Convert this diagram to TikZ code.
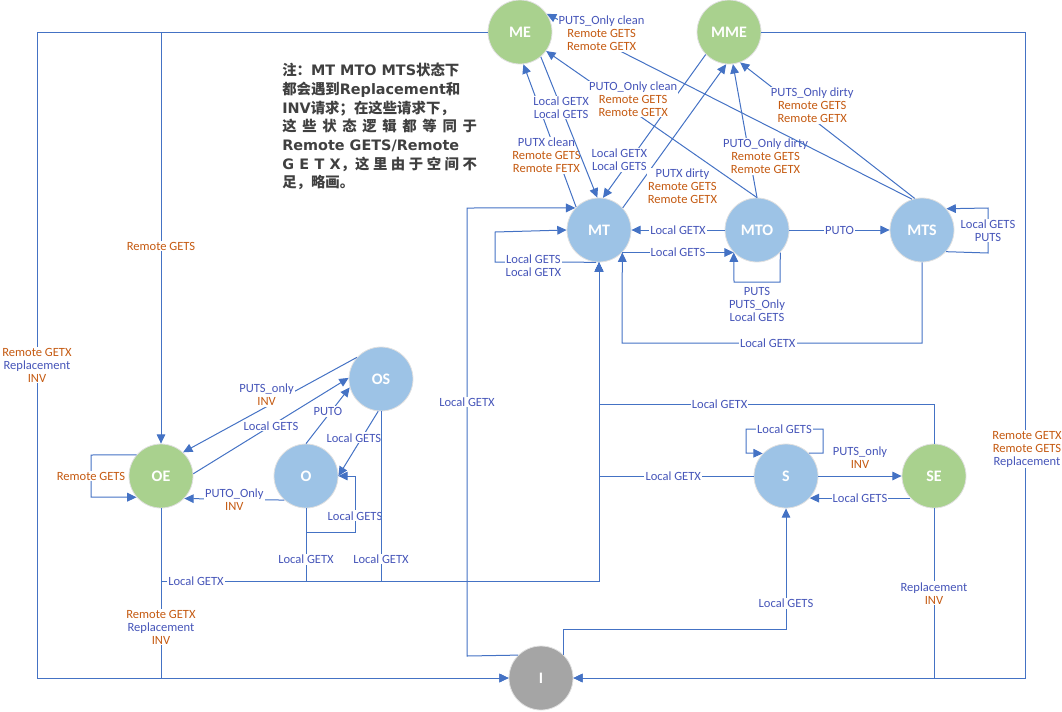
\documentclass[tikz,border=0pt]{standalone}
\usepackage{fontspec}
\usetikzlibrary{arrows.meta}

\newfontfamily\lbfont{Carlito}
\newfontfamily\cjkfont{Noto Sans CJK SC}
\newfontfamily\notelat{DejaVu Sans}

\definecolor{gfill}{HTML}{A9D18E}
\definecolor{bfill}{HTML}{9DC3E6}
\definecolor{ifill}{HTML}{A5A5A5}
\definecolor{lnblue}{HTML}{4472C4}
\definecolor{txtblue}{RGB}{70,85,185}
\definecolor{txtorange}{HTML}{C55A11}
\definecolor{notegray}{HTML}{404040}

\newcommand{\og}[1]{\textcolor{txtorange}{#1}}
\newcommand{\lt}[1]{{\notelat #1}}

\begin{document}
\begin{tikzpicture}[x=0.75pt,y=-0.75pt,
  st/.style={circle, minimum size=48pt, inner sep=0pt, draw=black!12, line width=0.6pt,
    text=white, font=\lbfont\bfseries\fontsize{12}{14}\selectfont},
  ar/.style={draw=lnblue, line width=0.75pt, -{Triangle[length=7pt,width=6.5pt]}},
  lb/.style={fill=white, inner sep=0.8pt, text=txtblue, align=center,
    font=\lbfont\fontsize{9.4}{9.75}\selectfont}]
\useasboundingbox (0,0) rectangle (1062,711);

% states
\node[st,fill=gfill] (ME)  at (520,32)  {ME};
\node[st,fill=gfill] (MME) at (729,32)  {MME};
\node[st,fill=bfill] (MT)  at (599,230) {MT};
\node[st,fill=bfill] (MTO) at (757,230) {MTO};
\node[st,fill=bfill] (MTS) at (922,230) {MTS};
\node[st,fill=bfill] (OS)  at (381,379) {OS};
\node[st,fill=gfill] (OE)  at (161,476) {OE};
\node[st,fill=bfill] (O)   at (306,476) {O};
\node[st,fill=bfill] (S)   at (786,476) {S};
\node[st,fill=gfill] (SE)  at (934,476) {SE};
\node[st,fill=ifill] (I)   at (541,678) {I};

% note
\node[anchor=north west, inner sep=0pt, align=left, text=notegray,
  font=\cjkfont\bfseries\fontsize{10.8}{14}\selectfont] (note) at (282,63)
  {注：\lt{MT MTO MTS}状态下\\
   都会遇到\lt{Replacement}和\\
   \lt{INV}请求；在这些请求下，\\
   \makebox[146pt][s]{这 些 状 态 逻 辑 都 等 同 于}\\
   \lt{Remote GETS/Remote}\\
   \makebox[146pt][s]{\lt{G E T X}，这 里 由 于 空 间 不}\\
   足，略画。};

% outer frame to I
\draw[ar] (ME.west) -| (37,678) -- (I.west);
\node[lb] (lbL) at (37,365) {\og{Remote GETX}\\Replacement\\\og{INV}};
\draw[ar] (ME.west) -| (OE.north) node[lb,pos=.76]{\og{Remote GETS}};
\draw[ar] (OE.south) |- (I.west) node[lb,pos=.35]{\og{Remote GETX}\\Replacement\\\og{INV}};
\draw[ar] (MME.east) -| (1025,678) -- (I.east);
\node[lb] (lbR) at (1027,449) {\og{Remote GETX}\\\og{Remote GETS}\\Replacement};
\draw[ar] (SE.south) |- (I.east) node[lb,pos=.25]{Replacement\\\og{INV}};

% OE / O / OS
\draw[ar] (OE.139) -- (91,455) -- (91,497) node[lb,pos=.5]{\og{Remote GETS}} -- (OE.221);
\draw[ar] (OS.138) -- (OE.47) node[lb,pos=.52,yshift=9pt]{PUTS\_only\\\og{INV}};
\draw[ar] (OE.4) -- (OS.178) node[lb,pos=.5]{Local GETS};
\draw[ar] (O.north) -- (OS.195) node[lb,pos=.5,yshift=3pt]{PUTO};
\draw[ar] (OS.265) -- (O.east) node[lb,pos=.41,xshift=-6pt]{Local GETS};
\draw[ar] (O.south) -- (306,532) -- (355,532) -- (355,476) node[lb,pos=.29]{Local GETS} -- (O.east);
\draw[ar] (O.228) -- (OE.-44) node[lb,pos=.5]{PUTO\_Only\\\og{INV}};

% Local GETX bus to MT
\draw[ar] (OE.south) |- (599,581) node[lb,pos=.54]{Local GETX} -- (MT.south);
\draw[ar] (O.south) |- (599,581) node[lb,pos=.35]{Local GETX} -- (MT.south);
\draw[ar] (OS.south) |- (599,581) node[lb,pos=.435]{Local GETX} -- (MT.south);
\draw[ar] (S.west) -| (MT.south) node[lb,pos=.26]{Local GETX};
\draw[ar] (SE.north) -- (934,404) -| (MT.south) node[lb,pos=.32]{Local GETX};

% I
\draw[ar] (I.135) -- (467,656) -- (467,208) node[lb,pos=.567]{Local GETX} -- (MT.137);
\draw[ar] (I.45) |- (786,629) -- (S.south) node[lb,pos=.21]{Local GETS};

% S / SE
\draw[ar] (S.45) -- (823,453) -- (823,429) -- (746,429) node[lb,pos=.5]{Local GETS} -- (746,453) -- (S.136);
\draw[ar] (S.east) -- (SE.west) node[lb,pos=.5,yshift=14pt]{PUTS\_only\\\og{INV}};
\draw[ar] (SE.223) -- (S.-43) node[lb,pos=.5]{Local GETS};

% MT / MTO / MTS
\draw[ar] (MTS.south) |- (622,343) node[lb,pos=.757]{Local GETX} -- (MT.-44);
\draw[ar] (MTS.-42) -- (988,253) -- (988,208) node[lb,pos=.5]{Local GETS\\PUTS} -- (MTS.41);
\draw[ar] (MTO.east) -- (MTS.west) node[lb,pos=.5]{PUTO};
\draw[ar] (MTO.west) -- (MT.east) node[lb,pos=.5]{Local GETX};
\draw[ar] (MT.-44) -- (MTO.224) node[lb,pos=.5]{Local GETS};
\draw[ar] (MTO.-44) -- (780,282) -- (734,282) node[lb,pos=.5,below=3pt]{PUTS\\PUTS\_Only\\Local GETS} -- (MTO.224);
\draw[ar] (MT.265) -- (495,262) node[lb,pos=.62,yshift=-3pt]{Local GETS\\Local GETX} -- (495,232) -- (MT.west);

% to / from ME and MME
\draw[ar] (MT.135) -- (ME.-84) node[lb,pos=.36,xshift=-8pt]{PUTX clean\\\og{Remote GETS}\\\og{Remote FETX}};
\draw[ar] (MME.224) -- (MT.83) node[lb,pos=.736,xshift=-8pt]{Local GETX\\Local GETS};
\draw[ar] (MT.43) -- (MME.-95) node[lb,pos=.15,right=6pt]{PUTX dirty\\\og{Remote GETS}\\\og{Remote GETX}};
\draw[ar] (MTO.north) -- (MME.-83) node[lb,pos=.31,xshift=12pt]{PUTO\_Only dirty\\\og{Remote GETS}\\\og{Remote GETX}};
\draw[ar] (MTS.103) -- (MME.-70) node[lb,pos=.686,xshift=13pt]{PUTS\_Only dirty\\\og{Remote GETS}\\\og{Remote GETX}};
\draw[ar] (MTS.108) -- (ME.34) node[lb,pos=.85,yshift=6pt]{PUTS\_Only clean\\\og{Remote GETS}\\\og{Remote GETX}};
\draw[ar] (MTO.north) -- (ME.-36) node[lb,pos=.6,yshift=8pt,xshift=2pt]{PUTO\_Only clean\\\og{Remote GETS}\\\og{Remote GETX}};
\draw[ar] (ME.-50) -- (MT.93) node[lb,pos=.36]{Local GETX\\Local GETS};
\end{tikzpicture}
\end{document}
